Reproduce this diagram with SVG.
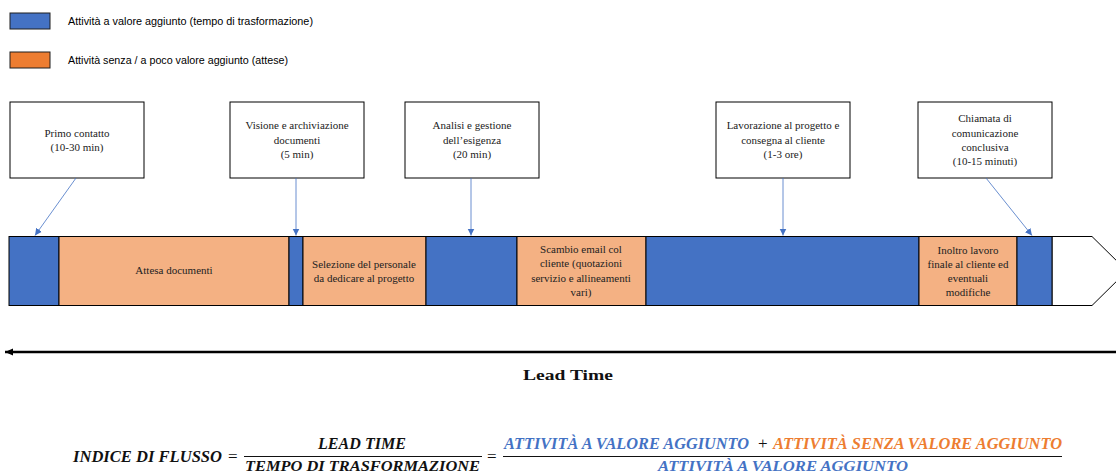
<svg xmlns="http://www.w3.org/2000/svg" width="1116" height="474" viewBox="0 0 1116 474">
  <style>
    .legend-box { stroke: #1f1f1f; stroke-width: 1; }
    .legend-text { font-family: "Liberation Sans", Arial, sans-serif; font-size: 10.5px; fill: #000; }
    .card { fill: #fff; stroke: #000; stroke-width: 1; }
    .card-text { font-family: "Liberation Serif", "Times New Roman", serif; font-size: 11px; fill: #222; text-anchor: middle; }
    .seg { stroke: #000; stroke-width: 1; }
    .va { fill: #4472C4; }
    .nva { fill: #F4B183; }
    .seg-text { font-family: "Liberation Serif", "Times New Roman", serif; font-size: 11px; fill: #222; text-anchor: middle; }
    .link { stroke: #4472C4; stroke-width: 0.8; fill: none; marker-end: url(#tip); }
    .eq { font-family: "Liberation Serif", "Times New Roman", serif; font-size: 17px; font-weight: bold; font-style: italic; }
    .den { font-size: 15px; }
    .op { font-family: "Liberation Serif", "Times New Roman", serif; font-size: 17px; fill: #111; }
    .ink { fill: #111; }
    .blue { fill: #4472C4; }
    .orange { fill: #ED7D31; }
  </style>
  <defs>
    <marker id="tip" markerWidth="8" markerHeight="8" refX="7" refY="4" orient="auto" markerUnits="userSpaceOnUse">
      <path d="M0,0.5 L7,4 L0,7.5 Z" fill="#4472C4"/>
    </marker>
    <marker id="lead" markerWidth="10" markerHeight="10" refX="8" refY="5" orient="auto" markerUnits="userSpaceOnUse">
      <path d="M0,1.5 L8,5 L0,8.5 Z" fill="#000"/>
    </marker>
  </defs>

  <!-- Legend -->
  <g id="legend">
    <rect class="legend-box va" x="10" y="13" width="40" height="16"/>
    <text class="legend-text" x="68" y="24.5" textLength="245" lengthAdjust="spacingAndGlyphs">Attività a valore aggiunto (tempo di trasformazione)</text>
    <rect class="legend-box" fill="#ED7D31" x="10" y="52" width="40" height="16"/>
    <text class="legend-text" x="68" y="63.5" textLength="220" lengthAdjust="spacingAndGlyphs">Attività senza / a poco valore aggiunto (attese)</text>
  </g>

  <!-- Activity cards -->
  <g id="card-primo-contatto">
    <rect class="card" x="10" y="102" width="134" height="76"/>
    <text class="card-text" x="77" y="137">Primo contatto</text>
    <text class="card-text" x="77" y="151">(10-30 min)</text>
  </g>
  <g id="card-visione">
    <rect class="card" x="230" y="102" width="134" height="76"/>
    <text class="card-text" x="297" y="129">Visione e archiviazione</text>
    <text class="card-text" x="297" y="144">documenti</text>
    <text class="card-text" x="297" y="158">(5 min)</text>
  </g>
  <g id="card-analisi">
    <rect class="card" x="405" y="102" width="134" height="76"/>
    <text class="card-text" x="472" y="129">Analisi e gestione</text>
    <text class="card-text" x="472" y="144">dell’esigenza</text>
    <text class="card-text" x="472" y="158">(20 min)</text>
  </g>
  <g id="card-lavorazione">
    <rect class="card" x="716" y="102" width="134" height="76"/>
    <text class="card-text" x="783" y="129">Lavorazione al progetto e</text>
    <text class="card-text" x="783" y="144">consegna al cliente</text>
    <text class="card-text" x="783" y="158">(1-3 ore)</text>
  </g>
  <g id="card-chiamata">
    <rect class="card" x="918" y="102" width="134" height="76"/>
    <text class="card-text" x="985" y="122">Chiamata di</text>
    <text class="card-text" x="985" y="137">comunicazione</text>
    <text class="card-text" x="985" y="151">conclusiva</text>
    <text class="card-text" x="985" y="165">(10-15 minuti)</text>
  </g>

  <!-- Timeline bar -->
  <g id="timeline">
    <polygon class="seg" fill="#fff" points="1052,236.5 1092,236.5 1127,271 1092,305.5 1052,305.5"/>
    <rect class="seg va" x="9" y="236.5" width="50" height="69"/>
    <rect class="seg nva" x="59" y="236.5" width="230" height="69"/>
    <rect class="seg va" x="289" y="236.5" width="14" height="69"/>
    <rect class="seg nva" x="303" y="236.5" width="123" height="69"/>
    <rect class="seg va" x="426" y="236.5" width="91" height="69"/>
    <rect class="seg nva" x="517" y="236.5" width="129" height="69"/>
    <rect class="seg va" x="646" y="236.5" width="273" height="69"/>
    <rect class="seg nva" x="919" y="236.5" width="98" height="69"/>
    <rect class="seg va" x="1017" y="236.5" width="35" height="69"/>
  </g>
  <g id="seg-attesa">
    <text class="seg-text" x="174" y="274">Attesa documenti</text>
  </g>
  <g id="seg-selezione">
    <text class="seg-text" x="364" y="268">Selezione del personale</text>
    <text class="seg-text" x="364" y="282">da dedicare al progetto</text>
  </g>
  <g id="seg-scambio">
    <text class="seg-text" x="581" y="253">Scambio email col</text>
    <text class="seg-text" x="581" y="267">cliente  (quotazioni</text>
    <text class="seg-text" x="581" y="282">servizio e allineamenti</text>
    <text class="seg-text" x="581" y="296">vari)</text>
  </g>
  <g id="seg-inoltro">
    <text class="seg-text" x="968" y="254">Inoltro lavoro</text>
    <text class="seg-text" x="968" y="268">finale al cliente ed</text>
    <text class="seg-text" x="968" y="282">eventuali</text>
    <text class="seg-text" x="968" y="296">modifiche</text>
  </g>

  <!-- Connectors -->
  <g id="connectors">
    <line class="link" x1="76" y1="178" x2="35" y2="235.5"/>
    <line class="link" x1="296" y1="178" x2="296" y2="235.5"/>
    <line class="link" x1="471" y1="178" x2="471" y2="235.5"/>
    <line class="link" x1="783" y1="178" x2="783" y2="235.5"/>
    <line class="link" x1="986" y1="178" x2="1032" y2="235.5"/>
  </g>

  <!-- Lead time axis -->
  <g id="lead-time">
    <line x1="1116" y1="352" x2="5" y2="352" stroke="#000" stroke-width="2.6" marker-end="url(#lead)"/>
    <text x="568" y="380" text-anchor="middle" font-family="'Liberation Serif', 'Times New Roman', serif" font-size="15" font-weight="bold" fill="#111" textLength="90" lengthAdjust="spacingAndGlyphs">Lead  Time</text>
  </g>

  <!-- Flow index formula -->
  <g id="formula">
    <text class="eq ink" x="73" y="462" textLength="149" lengthAdjust="spacingAndGlyphs">INDICE DI FLUSSO</text>
    <text class="op" x="228" y="462">=</text>
    <line x1="244" y1="456.5" x2="482" y2="456.5" stroke="#111" stroke-width="1.2"/>
    <text class="eq ink" x="318" y="449" textLength="88" lengthAdjust="spacingAndGlyphs">LEAD TIME</text>
    <text class="eq den ink" x="245" y="470.5" textLength="235" lengthAdjust="spacingAndGlyphs">TEMPO DI TRASFORMAZIONE</text>
    <text class="op" x="487" y="462">=</text>
    <line x1="503" y1="456.5" x2="1062" y2="456.5" stroke="#111" stroke-width="1.2"/>
    <text class="eq blue" x="504" y="449" textLength="245" lengthAdjust="spacingAndGlyphs">ATTIVITÀ A VALORE AGGIUNTO</text>
    <text class="op" x="758" y="449">+</text>
    <text class="eq orange" x="773" y="449" textLength="289" lengthAdjust="spacingAndGlyphs">ATTIVITÀ SENZA VALORE AGGIUNTO</text>
    <text class="eq den blue" x="658" y="470.5" textLength="250" lengthAdjust="spacingAndGlyphs">ATTIVITÀ A VALORE AGGIUNTO</text>
  </g>
</svg>
